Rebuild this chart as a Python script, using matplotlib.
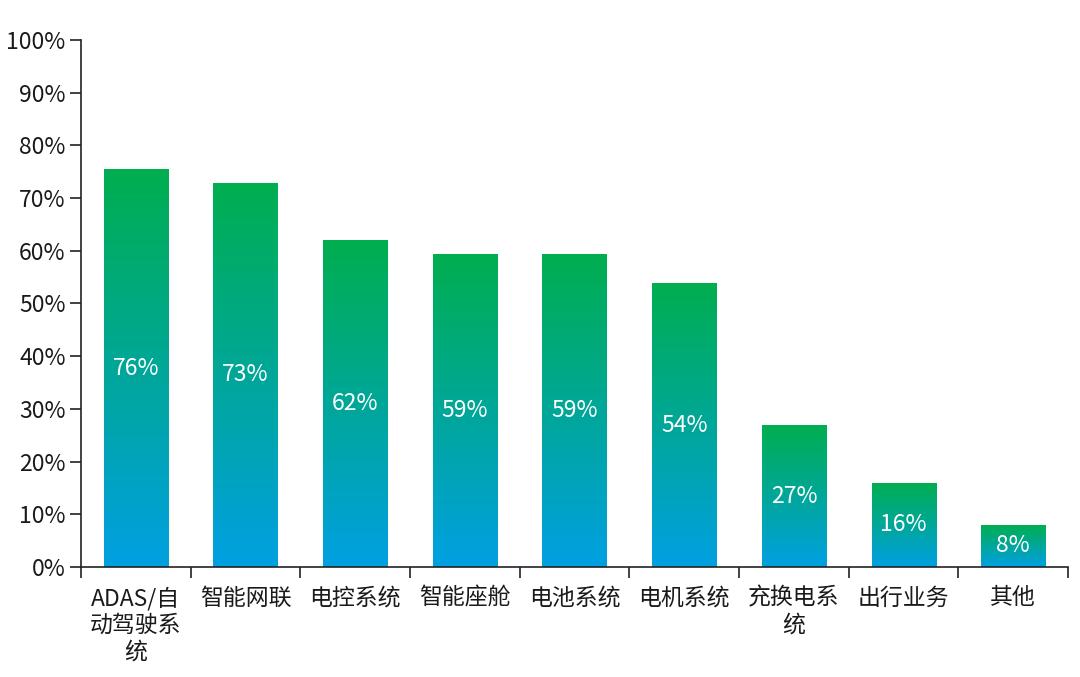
import numpy as np
import matplotlib
matplotlib.use('Agg')
import matplotlib.pyplot as plt
from matplotlib.colors import LinearSegmentedColormap
from matplotlib.ticker import FixedLocator, NullFormatter

plt.rcParams['font.family'] = ['Noto Sans CJK SC', 'DejaVu Sans']

categories = ['ADAS/自\n动驾驶系\n统', '智能网联', '电控系统', '智能座舱', '电池系统',
              '电机系统', '充换电系\n统', '出行业务', '其他']
values = [75.5, 72.9, 62.0, 59.3, 59.3, 53.8, 26.9, 16.0, 8.0]
value_labels = ['76%', '73%', '62%', '59%', '59%', '54%', '27%', '16%', '8%']
yticks = [0, 10, 20, 30, 40, 50, 60, 70, 80, 90, 100]

fig = plt.figure(figsize=(10.8, 6.77), dpi=100)
ax = fig.add_axes([0.075, 0.1625, 0.914, 0.7785])

cmap = LinearSegmentedColormap.from_list('gb', ['#00A0E2', '#00AE4F'])
grad = np.linspace(0, 1, 256).reshape(-1, 1)

x = np.arange(len(categories))
bars = ax.bar(x, values, width=0.585, color='none', edgecolor='none')
for rect, lab in zip(bars, value_labels):
    x0, w, h = rect.get_x(), rect.get_width(), rect.get_height()
    im = ax.imshow(grad, cmap=cmap, aspect='auto', origin='lower',
                   extent=[x0, x0 + w, 0, h], zorder=2)
    im.set_clip_path(rect)
    ax.text(x0 + w / 2, h / 2, lab, ha='center', va='center', color='white',
            fontsize=16.5, zorder=3)

ax.set_xlim(-0.5, len(categories) - 0.5)
ax.set_ylim(0, 100)
ax.set_yticks(yticks)
ax.set_yticklabels([f'{t}%' for t in yticks], fontsize=16.5, color='#1a1a1a')
ax.set_xticks(x)
ax.set_xticklabels(categories, fontsize=16.5, color='#1a1a1a', linespacing=1.22)
ax.tick_params(axis='x', which='major', length=0, pad=14)
ax.xaxis.set_minor_locator(FixedLocator(np.arange(-0.5, len(categories), 1)))
ax.xaxis.set_minor_formatter(NullFormatter())
ax.tick_params(axis='x', which='minor', length=8, width=1.2, color='#222222')
ax.tick_params(axis='y', length=8, width=1.2, color='#222222', pad=3)

for s in ['top', 'right']:
    ax.spines[s].set_visible(False)
for s in ['left', 'bottom']:
    ax.spines[s].set_linewidth(1.2)
    ax.spines[s].set_color('#222222')

fig.savefig('out.png', dpi=100)
